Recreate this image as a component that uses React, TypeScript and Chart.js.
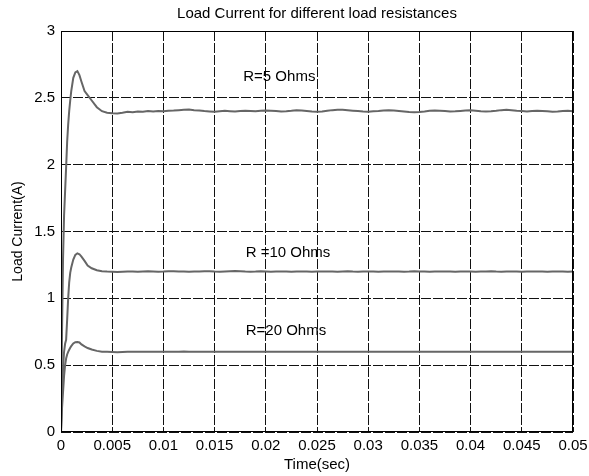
import React, { useEffect, useRef } from "react";
import { Chart, registerables } from "chart.js";

Chart.register(...registerables);

// Sample times (s): fine steps through the start-up transient, then a uniform grid.
const TIME_TRANSIENT = [
  0, 0.0001, 0.0002, 0.0003, 0.0004, 0.0005, 0.0006, 0.0007, 0.0008, 0.0009,
  0.001, 0.0012, 0.0014, 0.0016, 0.0018, 0.002, 0.0023, 0.0026, 0.003, 0.0035,
  0.004, 0.0045,
];
const TIME_STEADY = [
  0.005, 0.0055, 0.006, 0.0065, 0.007, 0.0075, 0.008, 0.0085, 0.009, 0.0095,
  0.01, 0.0105, 0.011, 0.0115, 0.012, 0.0125, 0.013, 0.0135, 0.014, 0.0145,
  0.015, 0.0155, 0.016, 0.0165, 0.017, 0.0175, 0.018, 0.0185, 0.019, 0.0195,
  0.02, 0.0205, 0.021, 0.0215, 0.022, 0.0225, 0.023, 0.0235, 0.024, 0.0245,
  0.025, 0.0255, 0.026, 0.0265, 0.027, 0.0275, 0.028, 0.0285, 0.029, 0.0295,
  0.03, 0.0305, 0.031, 0.0315, 0.032, 0.0325, 0.033, 0.0335, 0.034, 0.0345,
  0.035, 0.0355, 0.036, 0.0365, 0.037, 0.0375, 0.038, 0.0385, 0.039, 0.0395,
  0.04, 0.0405, 0.041, 0.0415, 0.042, 0.0425, 0.043, 0.0435, 0.044, 0.0445,
  0.045, 0.0455, 0.046, 0.0465, 0.047, 0.0475, 0.048, 0.0485, 0.049, 0.0495,
  0.05,
];

// Load current (A) for R = 5 ohms
const R5_TRANSIENT = [
  0, 0.75, 1.3, 1.62, 1.8, 1.98, 2.17, 2.3, 2.4, 2.48,
  2.55, 2.65, 2.69, 2.7, 2.67, 2.62, 2.55, 2.52, 2.48, 2.43,
  2.4, 2.388,
];
const R5_STEADY = [
  2.385, 2.383, 2.388, 2.395, 2.392, 2.398, 2.396, 2.401, 2.398, 2.402,
  2.399, 2.403, 2.405, 2.408, 2.41, 2.412, 2.408, 2.405, 2.401, 2.398,
  2.395, 2.399, 2.403, 2.4, 2.397, 2.401, 2.404, 2.402, 2.399, 2.403,
  2.406, 2.404, 2.401, 2.398, 2.4, 2.403, 2.407, 2.405, 2.402, 2.398,
  2.395, 2.397, 2.403, 2.408, 2.411, 2.41, 2.407, 2.404, 2.401, 2.398,
  2.396, 2.399, 2.402, 2.406, 2.408, 2.405, 2.402, 2.398, 2.394, 2.392,
  2.394, 2.398, 2.403, 2.406, 2.404, 2.401, 2.397, 2.399, 2.402, 2.405,
  2.407, 2.404, 2.4, 2.397, 2.399, 2.403, 2.408, 2.41, 2.408, 2.404,
  2.401, 2.398, 2.401, 2.404, 2.402, 2.399, 2.396, 2.398, 2.402, 2.404,
  2.4,
];

// Load current (A) for R = 10 ohms
const R10_TRANSIENT = [
  0, 0.28, 0.48, 0.6, 0.66, 0.69, 0.84, 1.0, 1.12, 1.19,
  1.23, 1.29, 1.325, 1.337, 1.33, 1.312, 1.28, 1.245, 1.225, 1.21,
  1.203, 1.2,
];
const R10_STEADY = [
  1.199, 1.197, 1.199, 1.201, 1.2, 1.198, 1.2, 1.202, 1.201, 1.199,
  1.2, 1.202, 1.203, 1.201, 1.2, 1.198, 1.2, 1.201, 1.203, 1.202,
  1.2, 1.199, 1.201, 1.203, 1.204, 1.202, 1.2, 1.199, 1.2, 1.202,
  1.201, 1.199, 1.2, 1.201, 1.2, 1.198, 1.2, 1.201, 1.2, 1.199,
  1.2, 1.201, 1.2, 1.2, 1.199, 1.201, 1.202, 1.2, 1.199, 1.2,
  1.201, 1.2, 1.199, 1.2, 1.2, 1.201, 1.2, 1.199, 1.2, 1.202,
  1.201, 1.2, 1.199, 1.2, 1.201, 1.2, 1.2, 1.199, 1.2, 1.201,
  1.2, 1.199, 1.2, 1.201, 1.202, 1.2, 1.199, 1.2, 1.201, 1.2,
  1.199, 1.2, 1.201, 1.2, 1.2, 1.199, 1.2, 1.201, 1.2, 1.199,
  1.2,
];

// Load current (A) for R = 20 ohms
const R20_TRANSIENT = [
  0, 0.18, 0.3, 0.42, 0.5, 0.55, 0.58, 0.6, 0.615, 0.63,
  0.642, 0.662, 0.672, 0.674, 0.67, 0.655, 0.64, 0.628, 0.617, 0.607,
  0.601, 0.6,
];
const R20_STEADY = [
  0.598, 0.596, 0.598, 0.6, 0.6, 0.6, 0.6, 0.601, 0.6, 0.6,
  0.6, 0.6, 0.6, 0.6, 0.602, 0.6, 0.6, 0.6, 0.6, 0.6,
  0.6, 0.6, 0.6, 0.6, 0.6, 0.601, 0.6, 0.6, 0.6, 0.6,
  0.6, 0.6, 0.6, 0.6, 0.6, 0.6, 0.6, 0.6, 0.6, 0.6,
  0.6, 0.6, 0.6, 0.601, 0.6, 0.6, 0.6, 0.6, 0.6, 0.6,
  0.6, 0.6, 0.6, 0.6, 0.6, 0.6, 0.6, 0.6, 0.6, 0.6,
  0.6, 0.6, 0.6, 0.6, 0.6, 0.6, 0.6, 0.6, 0.6, 0.6,
  0.6, 0.6, 0.6, 0.6, 0.6, 0.6, 0.6, 0.6, 0.6, 0.6,
  0.6, 0.6, 0.6, 0.6, 0.6, 0.6, 0.6, 0.6, 0.6, 0.6,
  0.6,
];

const X_TICK_LABELS = [
  "0", "0.005", "0.01", "0.015", "0.02", "0.025", "0.03", "0.035", "0.04", "0.045", "0.05",
];
const Y_TICK_LABELS = ["0", "0.5", "1", "1.5", "2", "2.5", "3"];

// In-plot labels for each curve (time, current at text baseline)
const CURVE_LABELS = ["R=5 Ohms", "R =10 Ohms", "R=20 Ohms"];
const CURVE_LABEL_X = [0.0178, 0.01804, 0.01804];
const CURVE_LABEL_Y = [2.626, 1.307, 0.7257];

const TITLE = "Load Current for different load resistances";
const X_TITLE = "Time(sec)";
const Y_TITLE = "Load Current(A)";

const FONT = "'Liberation Sans', Arial, Helvetica, sans-serif";
const LINE_COLOR = "#666666";

function toPoints(tTransient: number[], tSteady: number[], a: number[], b: number[]) {
  const t = tTransient.concat(tSteady);
  const v = a.concat(b);
  return t.map((x, i) => ({ x, y: v[i] }));
}

const decorations = {
  id: "decorations",
  afterDatasetsDraw(chart: any) {
    const { ctx, chartArea, scales } = chart;
    const { left, right, top, bottom } = chartArea;
    ctx.save();
    ctx.fillStyle = "#000";
    ctx.font = `15px ${FONT}`;
    ctx.textBaseline = "alphabetic";
    ctx.textAlign = "left";
    CURVE_LABELS.forEach((s, i) => {
      ctx.fillText(s, scales.x.getPixelForValue(CURVE_LABEL_X[i]), scales.y.getPixelForValue(CURVE_LABEL_Y[i]));
    });
    ctx.textAlign = "center";
    ctx.fillText(TITLE, (left + right) / 2, top - 13);
    ctx.fillText(X_TITLE, (left + right) / 2, bottom + 37);
    ctx.translate(22, (top + bottom) / 2);
    ctx.rotate(-Math.PI / 2);
    ctx.font = `14px ${FONT}`;
    ctx.fillText(Y_TITLE, 0, 0);
    ctx.restore();

    ctx.save();
    ctx.strokeStyle = "#000";
    ctx.lineWidth = 1;
    ctx.setLineDash([]);
    ctx.strokeRect(Math.round(left) + 0.5, Math.round(top) + 0.5, Math.round(right - left) - 1, Math.round(bottom - top) - 1);
    ctx.restore();
  },
};

export default function App() {
  const ref = useRef<HTMLCanvasElement | null>(null);

  useEffect(() => {
    if (!ref.current) return;
    const mk = (a: number[], b: number[]) => ({
      data: toPoints(TIME_TRANSIENT, TIME_STEADY, a, b),
      borderColor: LINE_COLOR,
      borderWidth: 2,
      pointRadius: 0,
      tension: 0,
      fill: false,
    });
    const chart = new Chart(ref.current, {
      type: "line",
      data: {
        datasets: [
          mk(R5_TRANSIENT, R5_STEADY),
          mk(R10_TRANSIENT, R10_STEADY),
          mk(R20_TRANSIENT, R20_STEADY),
        ],
      },
      options: {
        responsive: false,
        animation: false,
        events: [],
        layout: { padding: { left: 0, right: 16, top: 31, bottom: 0 } },
        plugins: { legend: { display: false }, title: { display: false }, tooltip: { enabled: false } },
        scales: {
          x: {
            type: "linear",
            min: 0,
            max: 0.05,
            afterFit: (s: any) => {
              s.height = 44;
              s.paddingLeft = 0;
              s.paddingRight = 0;
            },
            grid: { color: "#111", lineWidth: 1, drawTicks: false },
            border: { display: false, dash: [10, 2] },
            ticks: {
              stepSize: 0.005,
              autoSkip: false,
              maxRotation: 0,
              padding: 5,
              color: "#000",
              font: { family: FONT, size: 15 },
              callback: (_v: any, i: number) => X_TICK_LABELS[i],
            },
          },
          y: {
            type: "linear",
            min: 0,
            max: 3,
            afterFit: (s: any) => {
              s.width = 61;
              s.paddingTop = 0;
              s.paddingBottom = 0;
            },
            grid: { color: "#111", lineWidth: 1, drawTicks: false },
            border: { display: false, dash: [10, 2] },
            ticks: {
              stepSize: 0.5,
              padding: 6,
              color: "#000",
              font: { family: FONT, size: 15 },
              callback: (_v: any, i: number) => Y_TICK_LABELS[i],
            },
          },
        },
      },
      plugins: [decorations],
    } as any);
    return () => chart.destroy();
  }, []);

  return (
    <canvas
      ref={ref}
      width={589}
      height={476}
      style={{ position: "fixed", left: 0, top: 0, display: "block", background: "#fff" }}
    />
  );
}
